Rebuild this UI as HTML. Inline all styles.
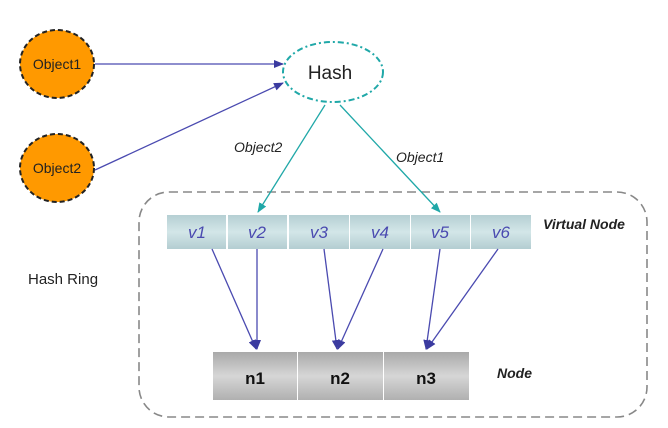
<!DOCTYPE html>
<html><head><style>
body{margin:0;background:#fff;}
svg{display:block;font-family:"Liberation Sans",sans-serif;}
</style></head><body>
<svg width="668" height="428" viewBox="0 0 668 428">
<defs>
<marker id="ab" markerWidth="10" markerHeight="8" refX="9" refY="4" orient="auto" markerUnits="userSpaceOnUse"><path d="M0,0 L10,4 L0,8 Z" fill="#3b3ba0"/></marker>
<marker id="at" markerWidth="10" markerHeight="8" refX="9" refY="4" orient="auto" markerUnits="userSpaceOnUse"><path d="M0,0 L10,4 L0,8 Z" fill="#20a8a8"/></marker>
<linearGradient id="vg" x1="0" y1="0" x2="0" y2="1"><stop offset="0" stop-color="#b5cfd3"/><stop offset="0.5" stop-color="#d3e6e8"/><stop offset="1" stop-color="#b3cdd1"/></linearGradient>
<linearGradient id="ng" x1="0" y1="0" x2="0" y2="1"><stop offset="0" stop-color="#a9a9a9"/><stop offset="0.5" stop-color="#d6d6d6"/><stop offset="1" stop-color="#b0b0b0"/></linearGradient>
</defs>
<rect x="139" y="192" width="508" height="225" rx="30" fill="none" stroke="#888" stroke-width="1.6" stroke-dasharray="9,5"/>
<text x="28" y="284" font-size="15" fill="#222">Hash Ring</text>
<ellipse cx="57" cy="64" rx="37" ry="34" fill="#f90" stroke="#222" stroke-width="2" stroke-dasharray="5,3"/>
<text x="57" y="69" font-size="14" text-anchor="middle" fill="#222">Object1</text>
<ellipse cx="57" cy="168" rx="37" ry="34" fill="#f90" stroke="#222" stroke-width="2" stroke-dasharray="5,3"/>
<text x="57" y="173" font-size="14" text-anchor="middle" fill="#222">Object2</text>
<ellipse cx="333" cy="72" rx="50" ry="30" fill="#fff" stroke="#20a8a8" stroke-width="2" stroke-dasharray="6,3,2,3"/>
<text x="330" y="79" font-size="19" text-anchor="middle" fill="#222">Hash</text>
<line x1="95" y1="64" x2="283" y2="64" stroke="#4a4ab0" stroke-width="1.3" marker-end="url(#ab)"/>
<line x1="95" y1="170" x2="283" y2="83" stroke="#4a4ab0" stroke-width="1.3" marker-end="url(#ab)"/>
<line x1="325" y1="105" x2="258" y2="212" stroke="#20a8a8" stroke-width="1.3" marker-end="url(#at)"/>
<line x1="340" y1="105" x2="440" y2="212" stroke="#20a8a8" stroke-width="1.3" marker-end="url(#at)"/>
<text x="234" y="152" font-size="14" font-style="italic" fill="#222">Object2</text>
<text x="396" y="162" font-size="14" font-style="italic" fill="#222">Object1</text>
<g font-size="17" font-style="italic" fill="#4a4ab0" text-anchor="middle">
<rect x="167" y="215" width="59" height="34" fill="url(#vg)"/><text x="197" y="238">v1</text>
<rect x="228" y="215" width="59" height="34" fill="url(#vg)"/><text x="257" y="238">v2</text>
<rect x="289" y="215" width="60" height="34" fill="url(#vg)"/><text x="319" y="238">v3</text>
<rect x="350" y="215" width="60" height="34" fill="url(#vg)"/><text x="380" y="238">v4</text>
<rect x="411" y="215" width="59" height="34" fill="url(#vg)"/><text x="440" y="238">v5</text>
<rect x="471" y="215" width="60" height="34" fill="url(#vg)"/><text x="501" y="238">v6</text>
</g>
<text x="543" y="229" font-size="14" font-weight="bold" font-style="italic" fill="#222">Virtual Node</text>
<g font-size="17" font-weight="bold" fill="#111" text-anchor="middle">
<rect x="213" y="352" width="84" height="48" fill="url(#ng)"/><text x="255" y="384">n1</text>
<rect x="298" y="352" width="85" height="48" fill="url(#ng)"/><text x="340" y="384">n2</text>
<rect x="384" y="352" width="85" height="48" fill="url(#ng)"/><text x="426" y="384">n3</text>
</g>
<text x="497" y="378" font-size="14" font-weight="bold" font-style="italic" fill="#222">Node</text>
<g stroke="#4a4ab0" stroke-width="1.3">
<line x1="212" y1="249" x2="256" y2="349" marker-end="url(#ab)"/>
<line x1="257" y1="249" x2="257" y2="349" marker-end="url(#ab)"/>
<line x1="324" y1="249" x2="337" y2="349" marker-end="url(#ab)"/>
<line x1="383" y1="249" x2="338" y2="349" marker-end="url(#ab)"/>
<line x1="440" y1="249" x2="426" y2="349" marker-end="url(#ab)"/>
<line x1="498" y1="249" x2="427" y2="349" marker-end="url(#ab)"/>
</g>
</svg>
</body></html>
